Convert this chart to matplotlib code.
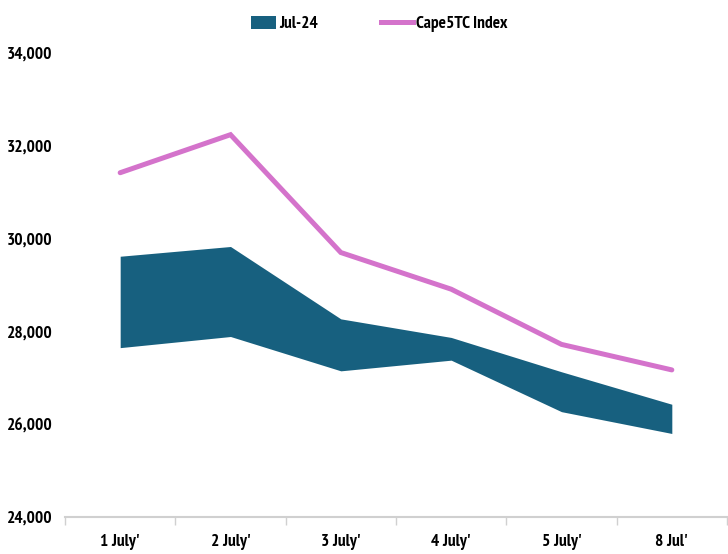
import matplotlib
matplotlib.use("Agg")
import matplotlib.pyplot as plt
from matplotlib.patches import Patch, Rectangle
from matplotlib.lines import Line2D
from matplotlib.legend_handler import HandlerPatch
from matplotlib.ticker import FuncFormatter, FixedLocator

plt.rcParams['font.family'] = ['PT Sans Narrow', 'DejaVu Sans']
plt.rcParams['font.weight'] = 'bold'

categories = ["1 July'", "2 July'", "3 July'", "4 July'", "5 July'", "8 Jul'"]
band_low = [27650, 27890, 27150, 27380, 26270, 25800]
band_high = [29620, 29830, 28270, 27870, 27130, 26430]
cape5tc = [31420, 32240, 29700, 28910, 27720, 27170]

band_color = "#17607F"
line_color = "#D473CB"
label_size = 12.5

fig = plt.figure(figsize=(7.28, 5.54), dpi=100)
ax = fig.add_axes([0.0893, 0.0668, 0.9093, 0.8375])

x = list(range(len(categories)))
ax.fill_between(x, band_low, band_high, color=band_color, linewidth=0)
ax.plot(x, cape5tc, color=line_color, linewidth=3.6, solid_capstyle='round',
        solid_joinstyle='miter')

ax.set_xlim(-0.5, len(categories) - 0.5)
ax.set_ylim(24000, 34000)
ax.set_yticks(range(24000, 34001, 2000))
ax.yaxis.set_major_formatter(FuncFormatter(lambda v, p: f"{int(v):,}"))

ax.set_xticks(x)
ax.set_xticklabels(categories)
ax.xaxis.set_minor_locator(FixedLocator([i - 0.5 for i in range(len(categories) + 1)]))

for side in ("top", "right", "left"):
    ax.spines[side].set_visible(False)
ax.spines["bottom"].set_color("#D0D0D0")
ax.spines["bottom"].set_linewidth(1.5)

ax.tick_params(axis="y", length=0, pad=9, labelsize=label_size)
ax.tick_params(axis="x", which="major", length=0, pad=12, labelsize=label_size)
ax.tick_params(axis="x", which="minor", length=6, width=1, color="#D0D0D0")


def narrow_box(legend, orig_handle, xdescent, ydescent, width, height, fontsize):
    # shorter swatch for the band entry, right-aligned against its label
    w = width * 0.78
    return Rectangle((-xdescent + width - w, -ydescent - 0.1 * height), w, height * 1.1)


handles = [Patch(facecolor=band_color, edgecolor="none", label="Jul-24"),
           Line2D([0], [0], color=line_color, linewidth=3.6, label="Cape5TC Index")]
fig.legend(handles=handles, loc="center", bbox_to_anchor=(0.516, 0.957), ncol=2,
           frameon=False, fontsize=label_size, handlelength=1.85, handletextpad=0.2,
           columnspacing=3.6,
           handler_map={Patch: HandlerPatch(patch_func=narrow_box)})

fig.savefig("out.png", dpi=100, facecolor="white")
